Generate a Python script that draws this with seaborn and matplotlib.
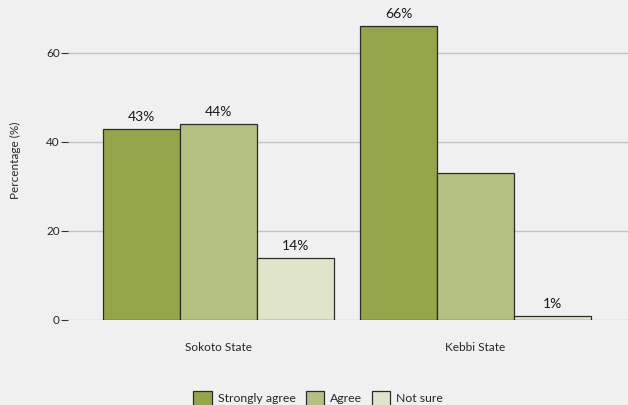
import numpy as np
import pandas as pd
import matplotlib
matplotlib.use("Agg")
import matplotlib.pyplot as plt
import seaborn as sns

states = ["Sokoto State", "Kebbi State"]
responses = ["Strongly agree", "Agree", "Not sure"]
strongly_agree = [43, 66]
agree = [44, 33]
not_sure = [14, 1]
labels = {
    ("Sokoto State", "Strongly agree"): "43%",
    ("Sokoto State", "Agree"): "44%",
    ("Sokoto State", "Not sure"): "14%",
    ("Kebbi State", "Strongly agree"): "66%",
    ("Kebbi State", "Not sure"): "1%",
}
colors = ["#95a54b", "#b5c083", "#e0e5c9"]
bg = "#eff0ef"

rows = []
for i, s in enumerate(states):
    for r, vals in zip(responses, [strongly_agree, agree, not_sure]):
        rows.append({"state": s, "response": r, "pct": vals[i]})
df = pd.DataFrame(rows)

sns.set_style("white")
plt.rcParams["font.family"] = ["Lato", "DejaVu Sans"]

fig = plt.figure(figsize=(6.28, 4.05), dpi=100, facecolor=bg)
ax = fig.add_axes([68 / 628, 85 / 405, 1 - 68 / 628, 320 / 405])
ax.set_facecolor(bg)

sns.barplot(ax=ax, data=df, x="state", y="pct", hue="response",
            order=states, hue_order=responses, palette=colors, saturation=1,
            width=0.9, edgecolor="#2b2b2b", linewidth=0.9, zorder=3)

# value labels
for cont, r in zip(ax.containers, responses):
    for bar, s in zip(cont, states):
        txt = labels.get((s, r))
        if txt:
            ax.text(bar.get_x() + bar.get_width() / 2, bar.get_height() + 1.3, txt,
                    ha="center", va="bottom", fontsize=10, color="#1a1a1a")

ax.set_ylim(0, 71.9)
ax.set_xlim(-0.586, 1.593)
ax.set_yticks([0, 20, 40, 60])
ax.yaxis.grid(True, color="#c4c4c4", linewidth=1, zorder=0)
ax.set_axisbelow(True)
for sp in ax.spines.values():
    sp.set_visible(False)
ax.tick_params(axis="y", length=5, width=0.8, color="#333333", labelsize=8.5, pad=1, left=True)
ax.tick_params(axis="x", length=0, labelsize=8.5, pad=16)
ax.set_xlabel("")
ax.set_ylabel("Percentage (%)", fontsize=8.5, labelpad=18)

leg = ax.legend(loc="center", bbox_to_anchor=(0.447, -0.245), ncol=3, frameon=False,
                fontsize=8.8, handlelength=1.5, handleheight=1.6, columnspacing=0.8,
                handletextpad=0.5)

fig.savefig("out.png", dpi=100, facecolor=bg)
